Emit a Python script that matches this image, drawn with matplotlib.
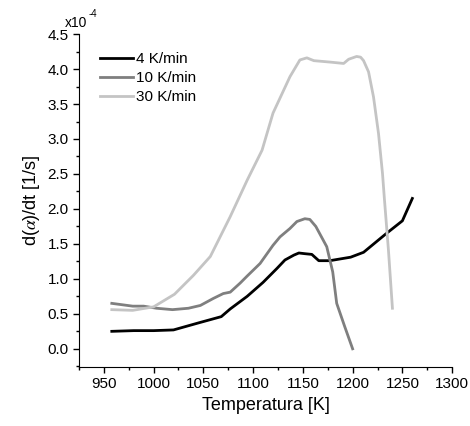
import numpy as np
import matplotlib.pyplot as plt
from matplotlib.ticker import MultipleLocator, FormatStrFormatter

plt.rcParams['font.family'] = ['Liberation Sans', 'DejaVu Sans']
plt.rcParams['mathtext.fontset'] = 'stix'

# 4 K/min
t4 = [958, 980, 1000, 1020, 1045, 1068, 1077, 1094, 1110, 1124, 1132, 1141, 1146, 1152, 1159, 1166, 1177, 1198, 1211, 1234, 1250, 1260]
r4 = [0.25, 0.26, 0.26, 0.27, 0.37, 0.46, 0.57, 0.75, 0.95, 1.15, 1.27, 1.34, 1.37, 1.36, 1.35, 1.26, 1.26, 1.31, 1.38, 1.65, 1.83, 2.15]

# 10 K/min
t10 = [958, 979, 990, 1003, 1019, 1035, 1047, 1060, 1070, 1077, 1087, 1094, 1107, 1120, 1127, 1137, 1144, 1152, 1157, 1163, 1174, 1180, 1184, 1192, 1200]
r10 = [0.65, 0.61, 0.61, 0.58, 0.56, 0.58, 0.62, 0.72, 0.79, 0.81, 0.94, 1.04, 1.22, 1.48, 1.6, 1.72, 1.82, 1.86, 1.85, 1.75, 1.46, 1.1, 0.65, 0.32, 0.0]

# 30 K/min
t30 = [958, 979, 1000, 1021, 1040, 1057, 1077, 1094, 1109, 1120, 1137, 1147, 1154, 1161, 1177, 1191, 1196, 1204, 1208, 1211, 1216, 1221, 1226, 1230, 1232, 1236, 1240]
r30 = [0.56, 0.55, 0.6, 0.78, 1.05, 1.32, 1.89, 2.41, 2.84, 3.37, 3.89, 4.13, 4.16, 4.12, 4.10, 4.08, 4.14, 4.18, 4.17, 4.12, 3.96, 3.6, 3.08, 2.51, 2.13, 1.41, 0.58]

fig = plt.figure(figsize=(4.7, 4.26), dpi=100)
ax = fig.add_axes([0.168, 0.1385, 0.794, 0.7815])

ax.plot(t4, r4, color='#000000', lw=2.0, label='4 K/min')
ax.plot(t10, r10, color='#7f7f7f', lw=2.0, label='10 K/min')
ax.plot(t30, r30, color='#c4c4c4', lw=2.0, label='30 K/min')

ax.set_xlim(925, 1300)
ax.set_ylim(-0.26, 4.5)
ax.xaxis.set_major_locator(MultipleLocator(50))
ax.xaxis.set_minor_locator(MultipleLocator(25))
ax.yaxis.set_major_locator(MultipleLocator(0.5))
ax.yaxis.set_minor_locator(MultipleLocator(0.25))
ax.yaxis.set_major_formatter(FormatStrFormatter('%.1f'))

for s in ['top', 'right']:
    ax.spines[s].set_visible(False)
ax.tick_params(which='major', direction='out', length=4, width=1, labelsize=11)
ax.tick_params(which='minor', direction='out', length=2.5, width=1)

ax.set_xlabel('Temperatura [K]', fontsize=13)
ax.set_ylabel(r'd($\alpha$)/dt [1/s]', fontsize=13)
fig.text(0.168 - 0.03, 0.93, 'x10', fontsize=10, ha='left', va='bottom')
fig.text(0.168 + 0.02, 0.955, '-4', fontsize=7, ha='left', va='bottom')

ax.legend(loc='upper left', bbox_to_anchor=(0.196, 0.895), bbox_transform=fig.transFigure,
          frameon=False, fontsize=11, borderpad=0,
          handlelength=2.2, handletextpad=0.15, labelspacing=0.32)

fig.savefig('out.png', dpi=100)
